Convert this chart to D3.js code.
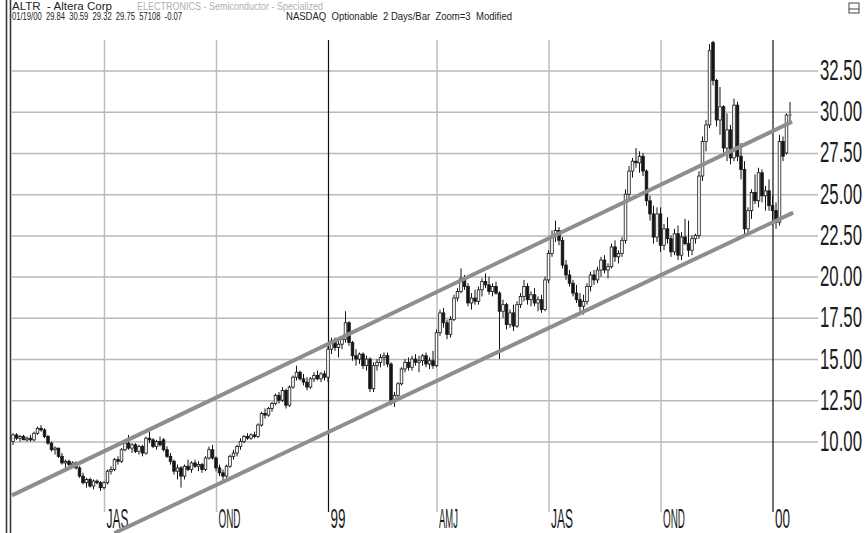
<!DOCTYPE html>
<html><head><meta charset="utf-8">
<script src="https://cdn.jsdelivr.net/npm/d3@7"></script>
<style>body{margin:0;background:#fff}svg{display:block}</style>
</head><body>
<svg id="c" width="865" height="533"></svg>
<script>
// ---- data (ALTR, 2 days per bar) ----
const opens=[10.0,10.4,10.2,10.3,10.1,10.2,10.1,10.5,10.8,10.7,
10.3,9.9,9.5,9.6,9.1,8.7,8.8,8.6,8.7,8.4,
7.9,7.5,7.7,7.3,7.6,7.5,7.2,7.5,8.2,8.3,
8.9,8.8,9.5,9.9,9.6,9.8,9.4,9.7,9.3,10.2,
10.1,9.7,10.0,10.1,9.5,9.1,8.8,8.2,8.4,7.9,
8.5,8.3,8.7,8.5,8.6,8.3,9.0,9.5,9.0,8.4,
8.1,7.9,8.5,9.1,9.3,9.7,10.0,10.3,10.2,10.4,
10.3,11.0,11.7,11.6,12.0,12.3,12.8,12.5,13.1,12.2,
13.3,13.9,14.2,13.8,13.6,13.3,13.8,14.0,13.8,14.1,
13.9,15.6,16.1,15.7,15.9,16.2,17.2,16.0,15.2,15.0,
15.3,14.6,15.0,13.2,14.6,14.8,15.1,15.2,14.7,12.5,
12.8,13.5,14.4,14.8,14.5,15.0,14.8,14.9,15.2,14.7,
14.9,14.6,16.6,17.8,17.2,16.5,17.4,18.7,19.1,19.9,
19.4,18.4,18.7,18.5,19.2,19.7,19.5,19.1,19.4,19.0,
17.9,18.3,17.1,17.8,17.0,18.3,18.8,19.4,18.6,18.9,
18.4,18.6,18.0,19.8,21.4,22.5,22.8,22.2,20.7,20.1,
19.6,19.0,18.6,18.2,18.5,19.4,20.1,19.8,20.4,21.0,
20.4,20.6,21.8,21.2,21.4,22.2,25.0,26.4,27.0,26.9,
27.3,26.4,24.6,23.8,22.4,23.8,21.9,22.9,22.3,21.5,
22.6,21.3,22.4,22.0,21.6,22.3,22.5,26.1,28.2,29.2,
34.2,31.9,29.5,30.3,27.8,28.9,27.2,30.4,27.3,26.5,
22.9,24.0,25.1,24.6,26.3,24.9,25.2,24.3,24.0,23.3,
28.2,27.5,29.84];
const highs=[10.5,10.5,10.4,10.4,10.3,10.4,10.6,10.9,11.0,10.8,
10.4,10.0,9.7,9.6,9.3,8.9,8.9,8.8,8.8,8.5,
8.1,7.8,7.8,7.7,7.7,7.6,7.6,8.3,8.5,9.0,
9.1,9.6,10.0,10.4,9.9,9.9,9.8,9.8,10.3,10.6,
10.2,10.1,10.3,10.2,9.7,9.3,8.9,8.6,8.5,8.6,
8.9,8.8,8.9,8.8,8.7,9.1,9.7,9.8,9.1,8.6,
8.3,8.6,9.2,9.5,9.8,10.2,10.4,10.5,10.5,10.6,
11.1,11.8,12.0,12.1,12.4,12.9,13.0,13.3,13.2,13.4,
14.0,14.6,14.3,14.1,13.9,13.9,14.2,14.3,14.2,14.3,
15.8,16.3,16.3,16.1,16.3,17.9,17.3,16.1,15.6,15.4,
15.4,15.2,15.1,14.8,15.0,15.3,15.4,15.4,14.8,13.0,
13.6,14.5,15.0,15.1,15.2,15.3,15.2,15.3,15.4,15.1,
15.5,16.8,18.0,18.1,17.4,17.6,18.9,19.3,20.5,20.1,
19.6,19.0,19.2,19.4,19.9,20.2,20.0,19.6,19.7,19.1,
18.6,18.4,18.0,18.3,18.5,19.0,19.8,19.6,19.1,19.3,
18.8,18.9,20.0,21.6,22.8,23.4,23.0,22.4,21.0,20.4,
19.8,19.5,19.0,18.9,19.6,20.3,20.4,20.6,21.2,21.3,
20.8,22.0,22.2,21.6,22.4,25.3,26.7,27.2,27.8,27.6,
27.5,26.5,24.9,24.3,24.2,24.2,23.2,23.6,22.5,22.9,
23.1,22.7,23.5,23.4,22.5,22.6,26.4,28.5,29.5,34.1,
34.3,32.0,31.5,30.4,29.9,29.2,30.8,30.6,28.1,27.0,
24.2,25.3,26.2,26.6,26.5,25.5,25.9,24.9,24.5,28.6,
28.5,29.9,30.59];
const lows=[9.8,10.1,10.0,10.1,10.0,10.0,10.0,10.4,10.6,10.2,
9.8,9.4,9.2,9.0,8.6,8.4,8.5,8.4,8.3,7.8,
7.4,7.2,7.2,7.1,7.4,7.0,7.1,7.4,8.0,8.2,
8.6,8.7,9.4,9.5,9.3,9.3,9.2,9.1,9.2,9.9,
9.6,9.5,9.7,9.4,9.0,8.6,8.0,7.7,7.2,7.7,
8.2,8.1,8.4,8.2,8.1,8.2,8.9,8.9,8.2,7.9,
7.6,7.8,8.4,8.9,9.1,9.5,9.9,10.1,10.1,10.2,
10.2,10.9,11.4,11.5,11.8,12.2,12.3,12.4,12.0,12.1,
13.2,13.7,13.7,13.4,13.1,13.2,13.6,13.7,13.6,13.7,
13.6,15.3,15.5,15.1,15.6,16.0,15.8,14.9,14.6,14.7,
14.4,14.3,13.0,13.0,14.3,14.5,14.6,14.5,12.2,12.1,
12.6,13.4,14.2,14.3,14.3,14.6,14.2,14.6,14.5,14.4,
14.4,14.5,16.4,16.9,16.2,16.3,17.3,18.5,19.0,19.2,
18.2,18.0,18.3,18.3,18.8,19.3,18.9,18.8,18.9,15.0,
17.5,16.8,16.9,16.7,16.9,18.1,18.5,18.3,18.2,18.2,
17.9,17.8,17.9,19.6,21.2,22.1,21.9,20.5,19.8,19.4,
18.8,18.4,17.9,17.7,18.3,19.1,19.5,19.6,20.0,20.2,
19.9,20.5,20.9,20.8,21.2,22.0,24.7,26.0,26.6,26.3,
26.1,24.3,23.4,22.0,22.1,21.5,21.6,22.0,21.2,21.3,
21.0,21.0,21.9,21.2,21.3,22.0,22.3,25.8,27.6,29.0,
31.6,29.1,28.6,27.4,27.0,26.8,27.0,27.0,25.9,22.5,
22.5,23.5,24.4,24.2,24.5,24.0,24.0,23.1,22.9,23.1,
27.0,27.4,29.32];
const closes=[10.4,10.2,10.3,10.1,10.2,10.1,10.5,10.8,10.7,10.3,
9.9,9.5,9.6,9.1,8.7,8.8,8.6,8.7,8.4,7.9,
7.5,7.7,7.3,7.6,7.5,7.2,7.5,8.2,8.3,8.9,
8.8,9.5,9.9,9.6,9.8,9.4,9.7,9.3,10.2,10.1,
9.7,10.0,9.8,9.5,9.1,8.8,8.2,8.4,7.9,8.5,
8.3,8.7,8.5,8.6,8.3,9.0,9.5,9.0,8.4,8.1,
7.9,8.5,9.1,9.3,9.7,10.0,10.3,10.2,10.4,10.3,
11.0,11.7,11.6,12.0,12.3,12.8,12.5,13.1,12.2,13.3,
13.9,14.2,13.8,13.6,13.3,13.8,14.0,13.8,14.1,13.9,
15.6,16.1,15.7,15.9,16.2,17.2,16.0,15.2,15.0,15.3,
14.6,15.0,13.2,14.6,14.8,15.1,15.2,14.7,12.5,12.8,
13.5,14.4,14.8,14.5,15.0,14.8,14.9,15.2,14.7,14.9,
14.6,16.6,17.8,17.2,16.5,17.4,18.7,19.1,19.9,19.4,
18.4,18.7,18.5,19.2,19.7,19.5,19.1,19.4,19.0,17.9,
18.3,17.1,17.8,17.0,18.3,18.8,19.4,18.6,18.9,18.4,
18.6,18.0,19.8,21.4,22.5,22.8,22.2,20.7,20.1,19.6,
19.0,18.6,18.2,18.5,19.4,20.1,19.8,20.4,21.0,20.4,
20.6,21.8,21.2,21.4,22.2,25.0,26.4,27.0,26.9,27.3,
26.4,24.6,23.8,22.4,23.8,21.9,22.9,22.3,21.5,22.6,
21.3,22.4,22.0,21.6,22.3,22.5,26.1,28.2,29.2,33.7,
31.9,29.5,30.3,27.8,28.9,27.2,30.4,27.3,26.5,22.9,
24.0,25.1,24.6,26.3,24.9,25.2,24.3,24.0,23.3,28.2,
27.3,29.8,29.75];

const quarterLabels=["JAS","OND","99","AMJ","JAS","OND","00"];
const quarterBars=[26,58,90,121,153,185,217];
const yearLabels=["99","00"];
const yTicks=[10,12.5,15,17.5,20,22.5,25,27.5,30,32.5];
// trend channel: [bar index, price]
const channelUpper=[[-0.3,6.73],[222.6,29.39]];
const channelLower=[[29,4.45],[222.9,23.88]];

const headerTitle="ALTR  - Altera Corp";
const headerSector="ELECTRONICS - Semiconductor - Specialized";
const headerQuote="01/19/00  29.84  30.59  29.32  29.75  57108  -0.07";
const headerInfo="NASDAQ  Optionable  2 Days/Bar  Zoom=3  Modified";

// ---- drawing ----
const FONT="'Liberation Sans Narrow','Arial Narrow','Liberation Sans',Arial,sans-serif";
const svg=d3.select("#c");
svg.append("rect").attr("width",865).attr("height",533).attr("fill","#fff");

const x=d3.scaleLinear().domain([0,closes.length-1]).range([13,790]);
const y=d3.scaleLinear().domain([10,32.5]).range([441.5,70.5]);

// horizontal grid + right labels
const ya=svg.append("g").attr("transform","translate(818,0)")
  .call(d3.axisRight(y).tickValues(yTicks).tickSize(-806).tickPadding(2).tickFormat(d=>d.toFixed(2)));
ya.select(".domain").remove();
ya.selectAll("line").attr("stroke","#b9b9b9").attr("stroke-width",1.5);
ya.selectAll("text").attr("font-family",FONT).attr("font-size",17).attr("fill","#1c1c1c")
  .attr("x",0).attr("y",0).attr("dy",0)
  .attr("textLength",42).attr("lengthAdjust","spacingAndGlyphs")
  .attr("transform","translate(2,9) scale(1,1.7)");

// vertical quarter lines + bottom labels
const xa=svg.append("g").attr("transform","translate(0,512)")
  .call(d3.axisBottom(x).tickValues(quarterBars).tickSize(-472).tickFormat((d,i)=>quarterLabels[i]));
xa.select(".domain").remove();
xa.selectAll(".tick line").attr("stroke",(d,i)=>yearLabels.includes(quarterLabels[i])?"#111":"#bdbdbd")
  .attr("stroke-width",(d,i)=>yearLabels.includes(quarterLabels[i])?1.2:1.5);
xa.selectAll(".tick text").attr("x",0).attr("y",0).attr("dy",0).attr("text-anchor","start")
  .attr("transform","translate(2,16) scale(1,1.55)")
  .attr("font-family",FONT).attr("font-size",18).attr("fill","#1c1c1c")
  .attr("textLength",(d,i)=>yearLabels.includes(quarterLabels[i])?15:(quarterLabels[i]==="AMJ"?19:22))
  .attr("lengthAdjust","spacingAndGlyphs");

// candles
const bars=d3.range(closes.length);
const cg=svg.append("g");
cg.selectAll("line").data(bars).join("line")
  .attr("x1",i=>x(i)).attr("x2",i=>x(i))
  .attr("y1",i=>y(highs[i])).attr("y2",i=>y(lows[i]))
  .attr("stroke","#151515").attr("stroke-width",1);
const bw=2.6;
cg.selectAll("rect").data(bars).join("rect")
  .attr("x",i=>x(i)-bw/2).attr("width",bw)
  .attr("y",i=>y(Math.max(opens[i],closes[i])))
  .attr("height",i=>Math.max(1,Math.abs(y(opens[i])-y(closes[i]))))
  .attr("fill",i=>closes[i]>=opens[i]?"#fff":"#151515")
  .attr("stroke",i=>i===closes.length-1?"#aaa":"#151515").attr("stroke-width",0.8);

// channel lines
const line=d3.line().x(d=>x(d[0])).y(d=>y(d[1]));
[channelUpper,channelLower].forEach(c=>{
  svg.append("path").attr("d",line(c)).attr("fill","none")
    .attr("stroke","#8e8e8e").attr("stroke-width",4);
});

// left double border
[6.5,10.5].forEach(xx=>svg.append("line").attr("x1",xx).attr("x2",xx).attr("y1",0).attr("y2",533)
  .attr("stroke","#3a3a3a").attr("stroke-width",1.6));

// header
const hf="'Liberation Sans',Arial,sans-serif";
function htext(t,xx,yy,w,col){
  svg.append("text").attr("x",xx).attr("y",yy).text(t).attr("font-family",hf).attr("font-size",10)
    .attr("fill",col).style("white-space","pre").attr("textLength",w).attr("lengthAdjust","spacingAndGlyphs");
}
htext(headerTitle,12,10,100,"#222");
htext(headerSector,137,10,186,"#b0b0b0");
htext(headerQuote,12,20,170,"#222");
htext(headerInfo,286,20,226,"#222");

// top-right icon
svg.append("rect").attr("x",849).attr("y",3).attr("width",10).attr("height",10)
  .attr("fill","none").attr("stroke","#444").attr("stroke-width",1);
svg.append("line").attr("x1",849).attr("x2",859).attr("y1",9).attr("y2",9).attr("stroke","#444");
</script>
</body></html>
